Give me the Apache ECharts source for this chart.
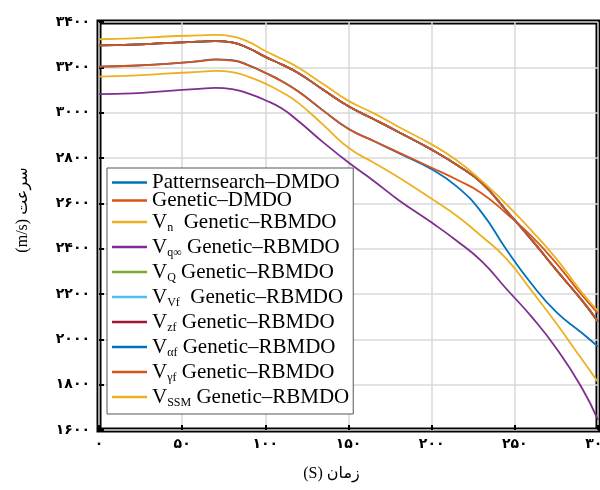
<!DOCTYPE html>
<html><head><meta charset="utf-8">
<script src="https://cdn.jsdelivr.net/npm/echarts@6/dist/echarts.min.js"></script>
<style>html,body{margin:0;padding:0;background:#fff}#c{width:600px;height:490px}</style>
</head><body><div id="c"></div>
<script>
// time (s)
const timeValues = [0, 20, 40, 60, 70, 80, 90, 100, 110, 120, 135, 150, 165, 180, 200, 215, 230, 245, 260, 275, 290, 300];
// speed (m/s)
const patternsearchDMDO = [3203, 3207, 3215, 3227, 3235, 3232, 3209, 3176, 3139, 3093, 3008, 2929, 2876, 2822, 2750, 2675, 2560, 2395, 2245, 2120, 2030, 1968];
const geneticDMDO       = [3203, 3207, 3215, 3226, 3234, 3230, 3208, 3175, 3138, 3092, 3008, 2928, 2875, 2825, 2757, 2705, 2645, 2555, 2455, 2335, 2198, 2115];
const vnRBMDO           = [3159, 3163, 3172, 3180, 3184, 3179, 3158, 3128, 3090, 3042, 2945, 2845, 2780, 2715, 2620, 2545, 2455, 2355, 2215, 2070, 1915, 1812];
const vqInfRBMDO        = [3082, 3085, 3095, 3105, 3109, 3104, 3084, 3055, 3018, 2962, 2868, 2780, 2700, 2615, 2515, 2435, 2345, 2222, 2100, 1960, 1790, 1645];
const vQRBMDO           = [3297, 3300, 3307, 3313, 3316, 3310, 3284, 3246, 3212, 3174, 3100, 3028, 2972, 2915, 2837, 2770, 2690, 2567, 2440, 2305, 2175, 2078];
const vVfRBMDO          = [3297, 3300, 3307, 3313, 3316, 3310, 3284, 3246, 3212, 3174, 3100, 3028, 2972, 2915, 2837, 2770, 2690, 2567, 2440, 2305, 2175, 2078];
const vzfRBMDO          = [3297, 3300, 3307, 3313, 3316, 3310, 3284, 3246, 3212, 3174, 3100, 3028, 2972, 2915, 2837, 2770, 2690, 2567, 2440, 2305, 2175, 2078];
const valphafRBMDO      = [3297, 3300, 3307, 3313, 3316, 3310, 3284, 3246, 3212, 3174, 3100, 3028, 2972, 2915, 2837, 2770, 2690, 2567, 2440, 2305, 2175, 2078];
const vgammafRBMDO      = [3297, 3300, 3307, 3313, 3316, 3310, 3284, 3246, 3212, 3174, 3100, 3028, 2972, 2915, 2837, 2770, 2690, 2567, 2440, 2305, 2175, 2078];
const vSSMRBMDO         = [3324, 3328, 3336, 3341, 3343, 3337, 3312, 3272, 3237, 3198, 3125, 3052, 2998, 2938, 2860, 2790, 2700, 2595, 2480, 2355, 2210, 2125];

const legendMain = ['Patternsearch–DMDO', 'Genetic–DMDO', 'V', 'V', 'V', 'V', 'V', 'V', 'V', 'V'];
const legendSub  = ['', '', 'n', 'q∞', 'Q', 'Vf', 'zf', 'αf', 'γf', 'SSM'];
const legendTail = ['', '', '  Genetic–RBMDO', ' Genetic–RBMDO', ' Genetic–RBMDO', '  Genetic–RBMDO', ' Genetic–RBMDO', ' Genetic–RBMDO', ' Genetic–RBMDO', ' Genetic–RBMDO'];
const seriesData = [patternsearchDMDO, geneticDMDO, vnRBMDO, vqInfRBMDO, vQRBMDO, vVfRBMDO, vzfRBMDO, valphafRBMDO, vgammafRBMDO, vSSMRBMDO];
const colors = ['#0072BD', '#D95319', '#EDB120', '#7E2F8E', '#77AC30', '#4DBEEE', '#A2142F', '#0072BD', '#D95319', '#EDB120'];

const names = legendMain.map((m, i) => m + legendSub[i] + legendTail[i]);
const faDigits = '۰۱۲۳۴۵۶۷۸۹';
function fa(v) { return String(v).replace(/\d/g, d => faDigits[+d]); }

const chart = echarts.init(document.getElementById('c'), null, {renderer: 'canvas'});
chart.setOption({
  animation: false,
  backgroundColor: '#fff',
  grid: {left: 99, right: 2, top: 22, bottom: 60, outerBoundsMode: 'none', containLabel: false,
         show: true, borderColor: '#000', borderWidth: 5, backgroundColor: 'transparent'},
  xAxis: {
    type: 'value', min: 0, max: 300, interval: 50,
    name: '(S) زمان', nameLocation: 'middle', nameGap: 36,
    nameTextStyle: {fontFamily: 'Liberation Serif, DejaVu Sans', fontSize: 16, color: '#000', padding: [0, 34, 0, 0]},
    axisLine: {show: false},
    axisTick: {show: true, inside: true, length: 5, lineStyle: {color: '#000', width: 2}},
    axisLabel: {formatter: v => fa(v), color: '#000', fontFamily: 'DejaVu Sans', fontWeight: 'bold', fontSize: 14, margin: 7},
    splitLine: {show: true, lineStyle: {color: '#d9d9d9', width: 1.5}}
  },
  yAxis: {
    type: 'value', min: 1600, max: 3400, interval: 200,
    name: '(m/s) سرعت', nameLocation: 'middle', nameGap: 68,
    nameTextStyle: {fontFamily: 'Liberation Serif, DejaVu Sans', fontSize: 16, color: '#000', padding: [0, 0, 0, 32]},
    axisLine: {show: false},
    axisTick: {show: true, inside: true, length: 5, lineStyle: {color: '#000', width: 2}},
    axisLabel: {formatter: v => fa(v), color: '#000', fontFamily: 'DejaVu Sans', fontWeight: 'bold', fontSize: 14, margin: 9},
    splitLine: {show: true, lineStyle: {color: '#d9d9d9', width: 1.5}}
  },
  legend: {
    orient: 'vertical', left: 107, top: 168, z: 10,
    padding: [4, 4, 3, 5], itemGap: -3, itemWidth: 35, itemHeight: 2.5, icon: 'rect',
    backgroundColor: '#fff', borderColor: '#555', borderWidth: 1, borderRadius: 0,
    data: names,
    textStyle: {
      fontFamily: 'Liberation Serif', fontSize: 21, color: '#000', lineHeight: 16,
      rich: {
        m: {fontFamily: 'Liberation Serif', fontSize: 21, color: '#000', lineHeight: 16},
        s: {fontFamily: 'Liberation Serif', fontSize: 12, color: '#000', lineHeight: 24, padding: [14, 0, 2, 0]}
      }
    },
    formatter: function (name) {
      const i = names.indexOf(name);
      if (!legendSub[i]) return '{m|' + legendMain[i] + '}';
      return '{m|' + legendMain[i] + '}{s|' + legendSub[i] + '}{m|' + legendTail[i] + '}';
    }
  },
  series: names.map((n, i) => ({
    name: n, type: 'line', symbol: 'none', smooth: 0.5,
    color: colors[i],
    lineStyle: {width: 1.8, color: colors[i]},
    data: timeValues.map((t, j) => [t, seriesData[i][j]])
  }))
});
</script></body></html>
